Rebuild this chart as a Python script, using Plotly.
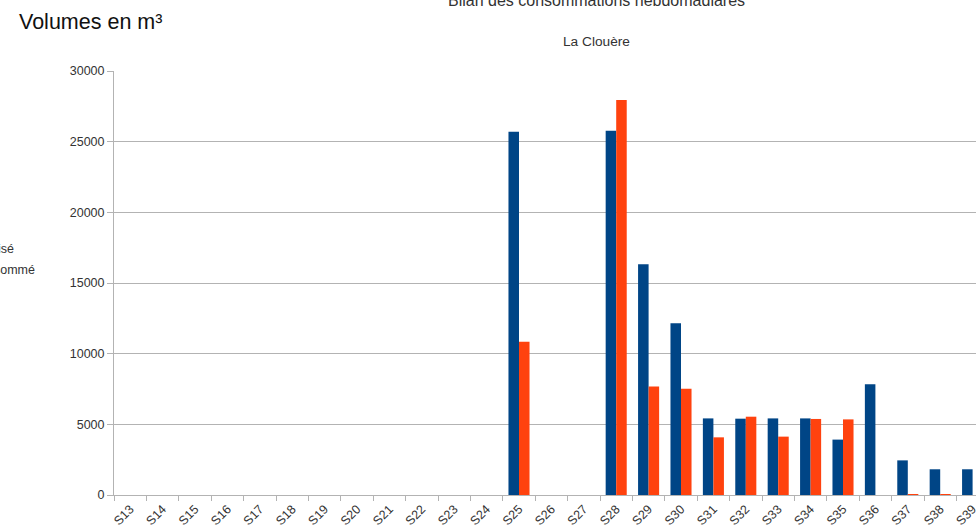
import plotly.graph_objects as go

weeks = ["S13", "S14", "S15", "S16", "S17", "S18", "S19", "S20", "S21", "S22",
         "S23", "S24", "S25", "S26", "S27", "S28", "S29", "S30", "S31", "S32",
         "S33", "S34", "S35", "S36", "S37", "S38", "S39"]
autorise = [0, 0, 0, 0, 0, 0, 0, 0, 0, 0, 0, 0, 25700, 0, 0, 25780, 16320, 12150,
            5420, 5400, 5420, 5420, 3920, 7830, 2450, 1820, 1820]
consomme = [0, 0, 0, 0, 0, 0, 0, 0, 0, 0, 0, 0, 10850, 0, 0, 27950, 7670, 7520,
            4080, 5540, 4130, 5380, 5350, 0, 30, 60, None]
series_names = ["Autorisé", "Consommé"]
y_ticks = [0, 5000, 10000, 15000, 20000, 25000, 30000]

W, H = 976, 528
pl, pt, pb = 114, 71, 495
pw, ph = W - pl, pb - pt
cat_w = 32.4

def px(x):
    return (x - pl) / pw

def py(y):
    return (pb - y) / ph

font_family = "Liberation Sans, Arial, sans-serif"

fig = go.Figure()
fig.add_trace(go.Bar(x=weeks, y=autorise, name=series_names[0], marker_color="#004586",
                     marker_line_width=0))
fig.add_trace(go.Bar(x=weeks, y=consomme, name=series_names[1], marker_color="#ff420e",
                     marker_line_width=0))

fig.update_layout(
    width=W, height=H,
    margin=dict(l=pl, r=0, t=pt, b=H - pb, pad=0, autoexpand=False),
    paper_bgcolor="white", plot_bgcolor="white",
    barmode="group", bargap=0.35, bargroupgap=0,
    showlegend=False,
    font=dict(family=font_family, color="#333333"),
    xaxis=dict(
        range=[-0.5, -0.5 + pw / cat_w], tickson="boundaries", ticks="outside", ticklen=5,
        tickcolor="#b3b3b3", showline=True, linecolor="#b3b3b3", linewidth=1,
        showgrid=False, tickangle=-45, tickfont=dict(size=12.5, color="#333333"),
        automargin=False, ticklabelstandoff=1,
    ),
    yaxis=dict(
        range=[0, 30000], tickvals=y_ticks, ticktext=[str(v) for v in y_ticks],
        ticks="outside", ticklen=6, tickcolor="#b3b3b3", showline=True,
        linecolor="#b3b3b3", linewidth=1, showgrid=True, gridcolor="#b3b3b3",
        gridwidth=1, zeroline=False, tickfont=dict(size=12.5, color="#333333"),
        automargin=False,
    ),
)

fig.add_annotation(text="Volumes en m³", xref="paper", yref="paper", x=px(17), y=py(22),
                   xanchor="left", yanchor="middle", showarrow=False,
                   font=dict(size=21.5, color="#111111", family=font_family))
fig.add_annotation(text="Bilan des consommations hebdomadiares", xref="paper", yref="paper",
                   x=px(596), y=py(11), xanchor="center", yanchor="bottom", showarrow=False,
                   font=dict(size=16, color="#333333", family=font_family))
fig.add_annotation(text="La Clouère", xref="paper", yref="paper", x=px(596), y=py(42),
                   xanchor="center", yanchor="middle", showarrow=False,
                   font=dict(size=13.7, color="#333333", family=font_family))
fig.add_annotation(text=series_names[0], xref="paper", yref="paper", x=px(-34), y=py(249),
                   xanchor="left", yanchor="middle", showarrow=False,
                   font=dict(size=12.5, color="#333333", family=font_family))
fig.add_annotation(text=series_names[1], xref="paper", yref="paper", x=px(-31), y=py(270),
                   xanchor="left", yanchor="middle", showarrow=False,
                   font=dict(size=12.5, color="#333333", family=font_family))

fig.write_html("out.html", config={"displayModeBar": False},
               post_script="document.body.style.margin='0';")
